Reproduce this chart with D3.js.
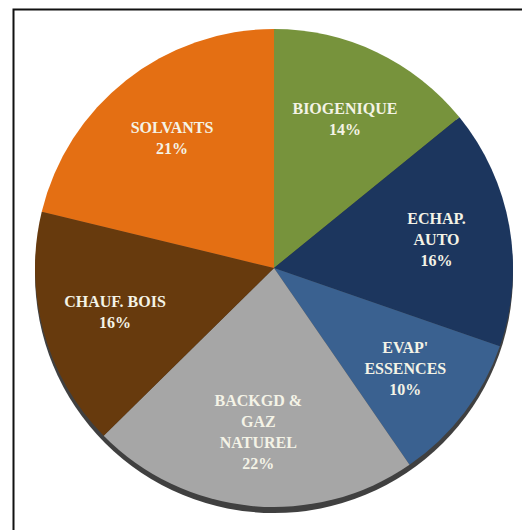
<!DOCTYPE html>
<html><head><meta charset="utf-8">
<script src="https://cdn.jsdelivr.net/npm/d3@7"></script>
<style>body{margin:0;background:#fff}svg{display:block}</style>
</head><body>
<svg id="c" width="522" height="530"></svg>
<script>
const categories = ["BIOGENIQUE", "ECHAP. AUTO", "EVAP' ESSENCES", "BACKGD & GAZ NATUREL", "CHAUF. BOIS", "SOLVANTS"];
const labelLines = [["BIOGENIQUE"], ["ECHAP.", "AUTO"], ["EVAP'", "ESSENCES"], ["BACKGD &", "GAZ", "NATUREL"], ["CHAUF. BOIS"], ["SOLVANTS"]];
const values = [14, 16, 10, 22, 16, 21];
const colors = ["#77933C", "#1C365E", "#3A6190", "#A6A6A6", "#673A0D", "#E46F13"];

const svg = d3.select("#c");
svg.append("rect").attr("x", 13.5).attr("y", 9.5).attr("width", 600).attr("height", 600)
  .attr("fill", "#fff").attr("stroke", "#111").attr("stroke-width", 2);

const cx = 274, cy = 268, r = 239;
const g = svg.append("g").attr("transform", `translate(${cx},${cy})`);
g.append("circle").attr("cx", 0).attr("cy", 6).attr("r", r).attr("fill", "#404040");

const data = categories.map((c, i) => ({ name: c, lines: labelLines[i], value: values[i], color: colors[i] }));
const pie = d3.pie().sort(null).value(d => d.value);
const arc = d3.arc().innerRadius(0).outerRadius(r);
const labelArc = d3.arc().innerRadius(165).outerRadius(165);
const arcs = pie(data);

g.selectAll("path.s").data(arcs).join("path").attr("class", "s")
  .attr("d", arc).attr("fill", d => d.data.color);

const lh = 21;
arcs.forEach(a => {
  const [x, y] = labelArc.centroid(a);
  const lines = a.data.lines.concat([a.data.value + "%"]);
  const t = g.append("text").attr("text-anchor", "middle")
    .attr("font-family", "'Liberation Serif', 'DejaVu Serif', serif")
    .attr("font-weight", "bold").attr("font-size", 16).attr("fill", "#F4F3E6");
  lines.forEach((l, i) => {
    t.append("tspan").attr("x", x).attr("y", y + (i - (lines.length - 1) / 2) * lh).attr("dy", "0.35em").text(l);
  });
});
</script>
</body></html>
